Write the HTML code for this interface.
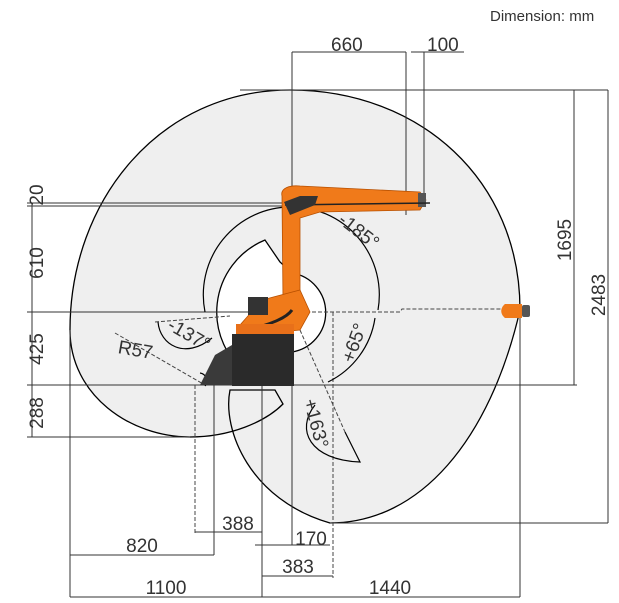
<!DOCTYPE html>
<html><head><style>
html,body{margin:0;padding:0;background:#fff;}
svg{display:block;font-family:"Liberation Sans",sans-serif;}
text{fill:#333;font-size:19px;}
</style></head><body>
<svg width="619" height="603" viewBox="0 0 619 603" xmlns="http://www.w3.org/2000/svg">
<!-- envelope -->
<path d="M290,90 C160,90 70,200 70,330 C70,395 130,437 190,437 C230,437 265,422 283,404 L275,390 L230,390 C222,430 250,500 330,523 C420,523 490,440 520,310 C520,180 420,90 290,90 Z" fill="#efefef" stroke="#000" stroke-width="1.3"/>
<!-- inner white region -->
<path d="M280,262 L265,240 A78,78 0 0 0 250,376 L290,370 L292,352 A40,40 0 0 0 292,273 Z" fill="#fff" stroke="#000" stroke-width="1.3"/>
<!-- dimension lines -->
<g stroke="#333" stroke-width="1" fill="none">
<line x1="240" y1="90" x2="608" y2="90"/>
<line x1="574" y1="90" x2="574" y2="385"/>
<line x1="608" y1="90" x2="608" y2="523"/>
<line x1="330" y1="523" x2="608" y2="523"/>
<line x1="27" y1="385" x2="577" y2="385"/>
<line x1="27" y1="312" x2="300" y2="312"/>
<line x1="27" y1="437" x2="190" y2="437"/>
<line x1="27" y1="203" x2="285" y2="203"/>
<line x1="27" y1="206" x2="285" y2="206"/>
<line x1="32" y1="203" x2="32" y2="437"/>
<line x1="292" y1="52" x2="406" y2="52"/>
<line x1="411" y1="52" x2="464" y2="52"/>
<line x1="292" y1="52" x2="292" y2="545"/>
<line x1="406" y1="52" x2="406" y2="215"/>
<line x1="424" y1="52" x2="424" y2="200"/>
<line x1="70" y1="330" x2="70" y2="597"/>
<line x1="214" y1="385" x2="214" y2="555"/>
<line x1="262" y1="312" x2="262" y2="597"/>
<line x1="520" y1="310" x2="520" y2="597"/>
<line x1="195" y1="532" x2="262" y2="532"/>
<line x1="70" y1="555" x2="214" y2="555"/>
<line x1="255" y1="545" x2="330" y2="545"/>
<line x1="262" y1="576" x2="333" y2="576"/>
<line x1="70" y1="597" x2="520" y2="597"/>
</g>
<g stroke="#444" stroke-width="1" fill="none" stroke-dasharray="4,2">
<path d="M300,312 L400,312 L402,309 L505,309"/>
<line x1="195" y1="385" x2="195" y2="535"/>
<line x1="333" y1="312" x2="333" y2="578"/>
<line x1="115" y1="333" x2="205" y2="385"/>
<line x1="155" y1="322" x2="230" y2="316"/>
<line x1="300" y1="330" x2="345" y2="432"/>
</g>
<!-- angle arcs -->
<g stroke="#000" stroke-width="1.2" fill="none">
<path d="M378,310 A88,88 0 1 0 205,312"/>
<path d="M375,318 A85,85 0 0 1 328,382"/>
<path d="M315,405 C295,430 310,460 360,462 L345,432"/>
<path d="M158,322 C160,345 185,360 212,338"/>
<path d="M200,373 A8,8 0 0 1 205,386"/>
</g>
<!-- robot -->
<path d="M282,196 C280,188 290,185 300,186 L420,192 L426,200 L420,210 L320,212 L300,218 L300,300 L283,300 Z" fill="#f07a1a" stroke="#b85000" stroke-width="0.8"/>
<rect x="418" y="193" width="8" height="14" fill="#555"/>
<line x1="285" y1="205" x2="430" y2="203" stroke="#222" stroke-width="1.5"/>
<path d="M284,202 L300,196 L318,196 L315,205 L290,215 Z" fill="#333"/>
<path d="M262,300 L300,290 L310,312 L300,330 L250,335 L240,325 Z" fill="#f07a1a" stroke="#b85000" stroke-width="0.8"/>
<rect x="248" y="297" width="20" height="18" fill="#333"/>
<path d="M250,330 C265,325 285,320 292,310" stroke="#222" stroke-width="3" fill="none"/>
<rect x="236" y="324" width="58" height="10" fill="#e8701a"/>
<rect x="232" y="334" width="62" height="52" fill="#2a2a2a"/>
<path d="M232,345 L215,355 L205,375 L200,385 L232,385 Z" fill="#3a3a3a"/>
<path d="M505,304 L522,304 L522,318 L505,318 C500,314 500,308 505,304 Z" fill="#f07a1a"/>
<rect x="522" y="305" width="8" height="12" rx="2" fill="#555"/>
<!-- labels -->
<text x="490" y="21" style="font-size:15px">Dimension: mm</text>
<text x="331" y="51" style="font-size:19px">660</text>
<text x="427" y="51" style="font-size:19px">100</text>
<text transform="translate(43,195) rotate(-90)" text-anchor="middle">20</text>
<text transform="translate(43,263) rotate(-90)" text-anchor="middle">610</text>
<text transform="translate(43,349) rotate(-90)" text-anchor="middle">425</text>
<text transform="translate(43,413) rotate(-90)" text-anchor="middle">288</text>
<text transform="translate(571,240) rotate(-90)" text-anchor="middle">1695</text>
<text transform="translate(605,295) rotate(-90)" text-anchor="middle">2483</text>
<text transform="translate(355,236) rotate(38)" text-anchor="middle">-185°</text>
<text transform="translate(186,340) rotate(30)" text-anchor="middle">-137°</text>
<text x="118" y="356" transform="rotate(10,135,350)">R57</text>
<text transform="translate(360,345) rotate(-70)" text-anchor="middle">+65°</text>
<text transform="translate(310,425) rotate(75)" text-anchor="middle">+163°</text>
<text x="238" y="530" text-anchor="middle">388</text>
<text x="142" y="552" text-anchor="middle">820</text>
<text x="311" y="545" text-anchor="middle">170</text>
<text x="298" y="573" text-anchor="middle">383</text>
<text x="166" y="594" text-anchor="middle">1100</text>
<text x="390" y="594" text-anchor="middle">1440</text>
</svg>
</body></html>
